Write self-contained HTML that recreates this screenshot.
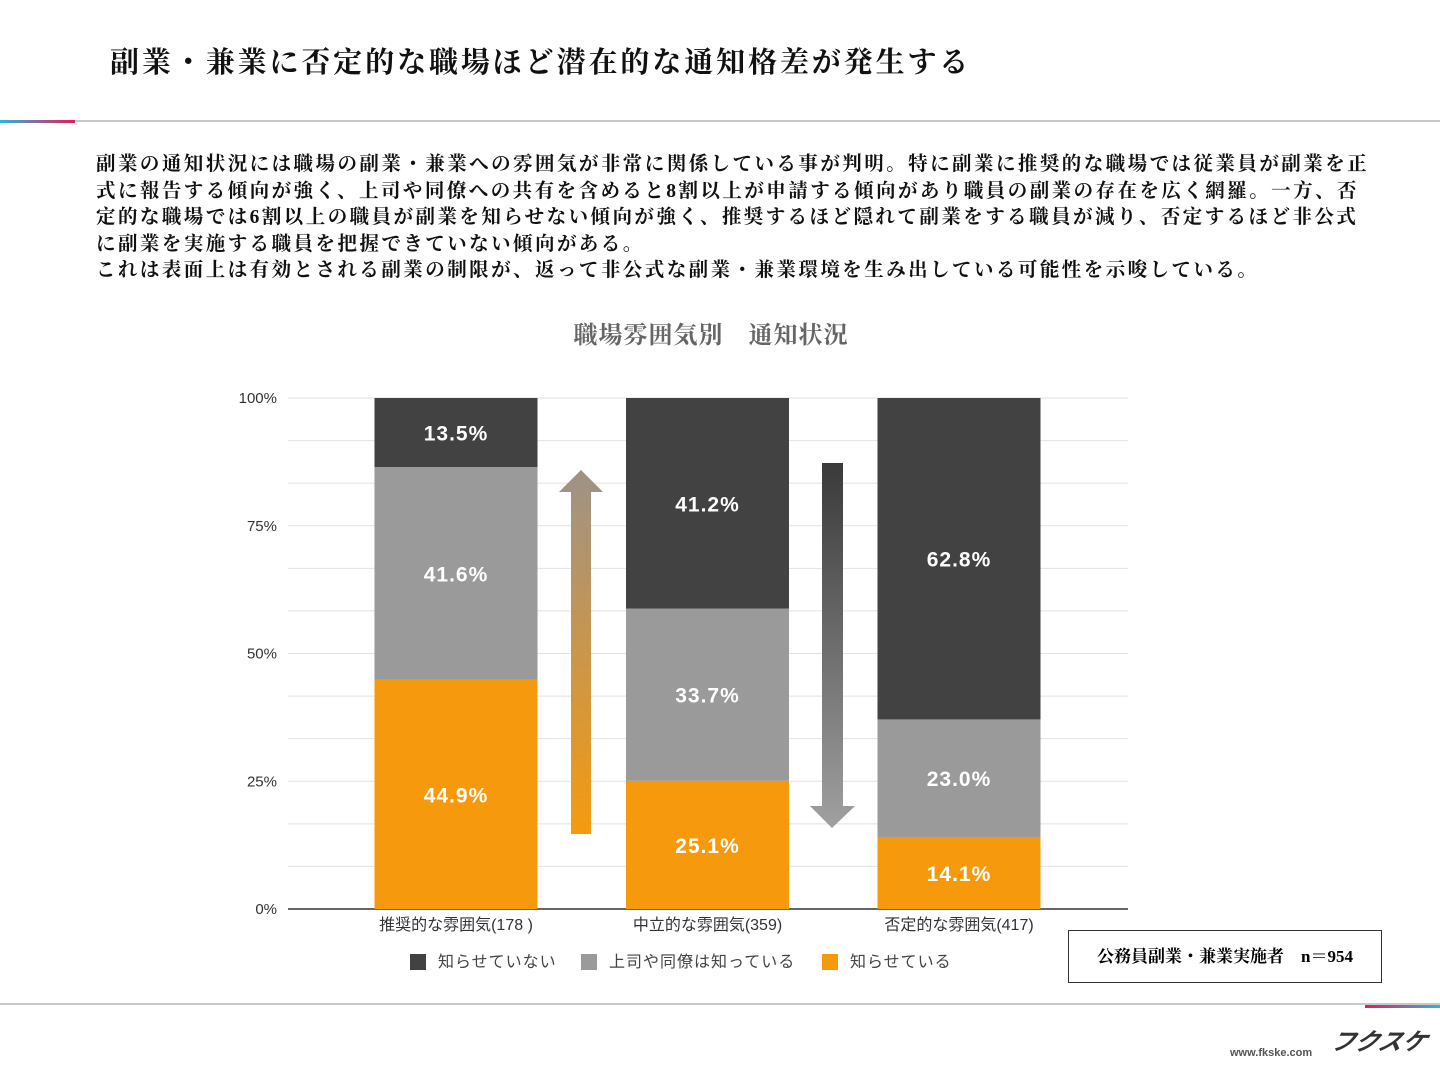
<!DOCTYPE html>
<html><head><meta charset="utf-8"><style>
body{margin:0;width:1440px;height:1080px;background:#fff;font-family:"Liberation Serif","Noto Serif CJK SC","Noto Sans CJK JP",serif;position:relative;overflow:hidden}
.abs{position:absolute}
#title{left:110px;top:40px;font-size:29px;font-weight:bold;color:#111;letter-spacing:2.9px;white-space:nowrap}
#desc{left:96px;top:152px;font-size:19.5px;line-height:26.5px;color:#111;font-weight:bold;letter-spacing:2.45px;white-space:nowrap}
</style></head><body>
<div id="title" class="abs">副業・兼業に否定的な職場ほど潜在的な通知格差が発生する</div>
<div class="abs" style="left:0;top:120px;width:1440px;height:2px;background:#c8c8c8"></div>
<div class="abs" style="left:0;top:120px;width:75px;height:3px;background:linear-gradient(90deg,#29b6e0,#e8195a)"></div>
<div id="desc" class="abs">副業の通知状況には職場の副業・兼業への雰囲気が非常に関係している事が判明。特に副業に推奨的な職場では従業員が副業を正<br>式に報告する傾向が強く、上司や同僚への共有を含めると8割以上が申請する傾向があり職員の副業の存在を広く網羅。一方、否<br>定的な職場では6割以上の職員が副業を知らせない傾向が強く、推奨するほど隠れて副業をする職員が減り、否定するほど非公式<br>に副業を実施する職員を把握できていない傾向がある。<br>これは表面上は有効とされる副業の制限が、返って非公式な副業・兼業環境を生み出している可能性を示唆している。</div>
<svg class="abs" style="left:0;top:0" width="1440" height="1080" id="chart">
<defs>
<linearGradient id="gup" x1="0" y1="1" x2="0" y2="0"><stop offset="0" stop-color="#f59a0f"/><stop offset="1" stop-color="#9e9288"/></linearGradient>
<linearGradient id="gdn" x1="0" y1="0" x2="0" y2="1"><stop offset="0" stop-color="#3a3a3a"/><stop offset="1" stop-color="#a0a0a0"/></linearGradient>
</defs>
<g id="grid"></g><g id="bars"></g><g id="labels"></g>
<polygon points="571,834 591,834 591,492 603,492 581,470 559,492 571,492" fill="url(#gup)"/>
<polygon points="822,463 843,463 843,806 855,806 832,828 810,806 822,806" fill="url(#gdn)"/>
<text x="711" y="343" text-anchor="middle" font-size="24" fill="#666" font-weight="bold" letter-spacing="1" font-family="Liberation Serif,Noto Serif CJK SC,serif">職場雰囲気別　通知状況</text>
</svg>
<div class="abs" style="left:1068px;top:930px;width:314px;height:53px;border:1.5px solid #333;box-sizing:border-box;font-size:17px;line-height:51px;text-align:center;font-weight:bold">公務員副業・兼業実施者　n＝954</div>
<div class="abs" style="left:0;top:1003px;width:1440px;height:2px;background:#c8c8c8"></div>
<div class="abs" style="left:1365px;top:1005px;width:75px;height:3px;background:linear-gradient(90deg,#e8195a,#29b6e0)"></div>
<div class="abs" style="left:1230px;top:1047px;font-size:11px;font-weight:bold;color:#555;font-family:'Liberation Sans',sans-serif">www.fkske.com</div>
<div class="abs" style="left:1332px;top:1022px;font-size:24px;font-style:italic;font-weight:bold;color:#333;white-space:nowrap;font-family:'Liberation Sans','Noto Sans CJK JP',sans-serif;transform:skewX(-15deg)">フクスケ</div>
<script>
const categories=["推奨的な雰囲気(178 )","中立的な雰囲気(359)","否定的な雰囲気(417)"];
const seriesNames=["知らせていない","上司や同僚は知っている","知らせている"];
const notInformed=[13.5,41.2,62.8];
const bossKnows=[41.6,33.7,23.0];
const informed=[44.9,25.1,14.1];
const yTicks=[0,25,50,75,100];
const colors=["#424242","#9a9a9a","#f7990c"];
const NS="http://www.w3.org/2000/svg";
const x0=288,x1=1128,yB=909,yT=398;
const y=v=>yB-(v/100)*(yB-yT);
const step=251.5;
const bx=i=>x0+168+step*i;
function mk(t,a,p){const e=document.createElementNS(NS,t);for(const k in a)e.setAttribute(k,a[k]);p.appendChild(e);return e;}
const grid=document.getElementById('grid'),bars=document.getElementById('bars'),labs=document.getElementById('labels');
for(let k=0;k<=12;k++){const v=k*100/12;const l=mk('line',{x1:x0,x2:x1,y1:y(v),y2:y(v),stroke:k==0?'#333':'#e2e2e2','stroke-width':k==0?1.5:1},grid);

}
yTicks.forEach(t=>{const e=mk('text',{x:277,y:y(t)+5,'text-anchor':'end','font-size':15,fill:'#333','font-family':'Liberation Sans,sans-serif'},grid);e.textContent=t+'%';

});
const series=[informed,bossKnows,notInformed];const scol=[colors[2],colors[1],colors[0]];
categories.forEach((c,i)=>{let base=0;
 series.forEach((s,j)=>{const v=s[i];const top=(j==2)?100:base+v;
  const r=mk('rect',{x:bx(i)-81.5,width:163,y:y(top),height:y(base)-y(top),fill:scol[j]},bars);
  
  
  const t=mk('text',{x:bx(i),y:(y(top)+y(base))/2+8,'text-anchor':'middle','font-size':21,'font-weight':'bold','letter-spacing':1,fill:'#fff','font-family':'Liberation Sans,sans-serif'},labs);
  t.textContent=v.toFixed(1)+'%';
  
  
  base=top;});
 const ct=mk('text',{x:bx(i),y:930,'text-anchor':'middle','font-size':16,fill:'#333','font-family':'Liberation Sans,Noto Sans CJK JP,sans-serif'},labs);
 ct.textContent=c;
 
 
});
const lx=[410,581,822];
seriesNames.forEach((n,i)=>{const r=mk('rect',{x:lx[i],y:954,width:16,height:16,fill:colors[i]},labs);
 
 
 const t=mk('text',{x:lx[i]+28,y:967,'font-size':16,'letter-spacing':1,fill:'#444','font-family':'Liberation Sans,Noto Sans CJK JP,sans-serif'},labs);
 t.textContent=n;
 
 });
</script>
</body></html>
